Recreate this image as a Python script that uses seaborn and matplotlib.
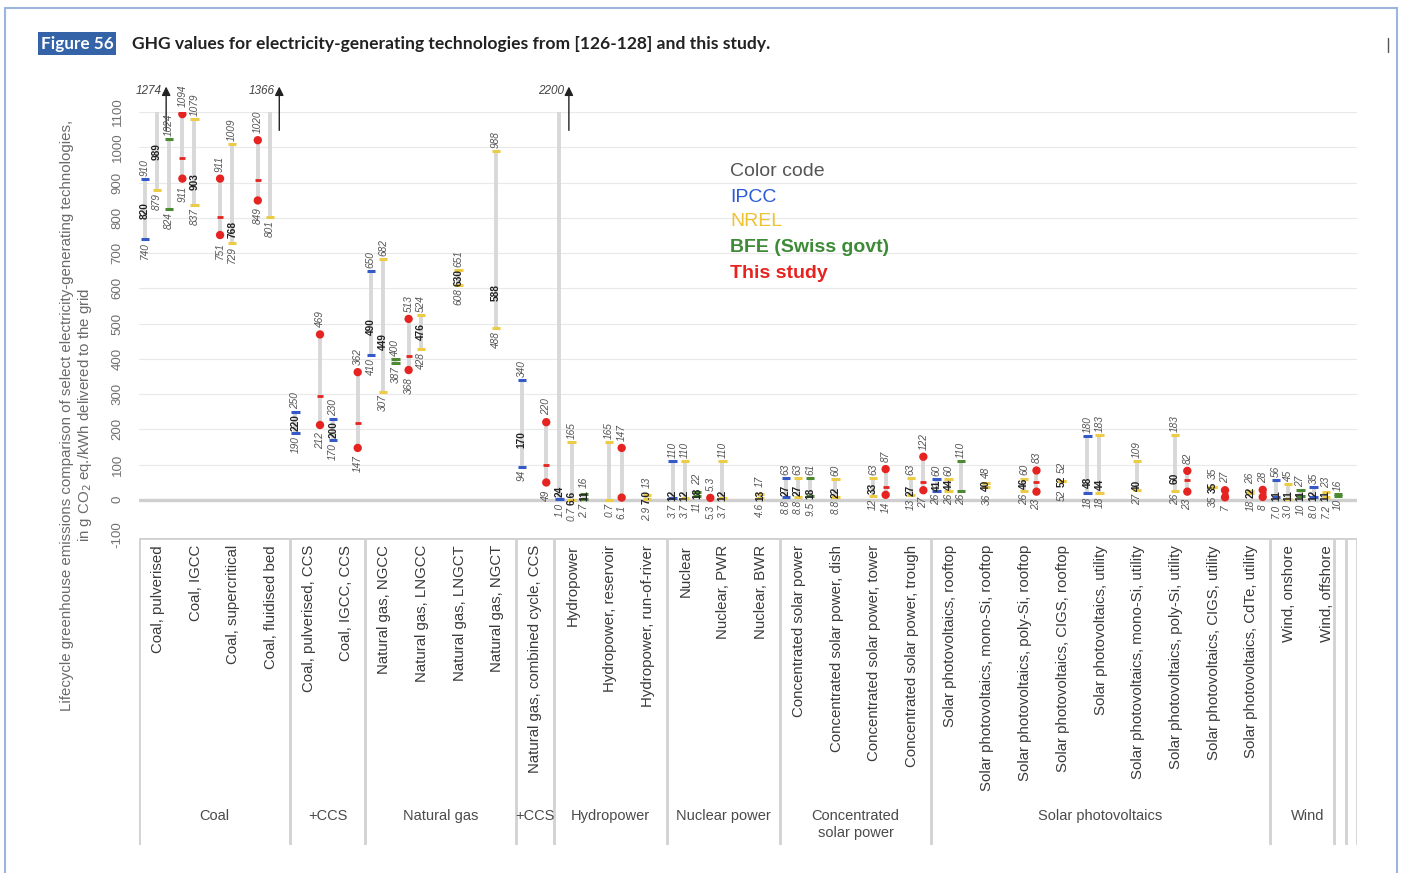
import matplotlib
matplotlib.use("Agg")
import pandas as pd
import seaborn as sns
import matplotlib.pyplot as plt
from matplotlib.patches import Rectangle
from matplotlib.lines import Line2D

# ---- categories ----
techs = [
    "Coal, pulverised", "Coal, IGCC", "Coal, supercritical", "Coal, fluidised bed",
    "Coal, pulverised, CCS", "Coal, IGCC, CCS",
    "Natural gas, NGCC", "Natural gas, LNGCC", "Natural gas, LNGCT", "Natural gas, NGCT",
    "Natural gas, combined cycle, CCS",
    "Hydropower", "Hydropower, reservoir", "Hydropower, run-of-river",
    "Nuclear", "Nuclear, PWR", "Nuclear, BWR",
    "Concentrated solar power", "Concentrated solar power, dish",
    "Concentrated solar power, tower", "Concentrated solar power, trough",
    "Solar photovoltaics, rooftop", "Solar photovoltaics, mono-Si, rooftop",
    "Solar photovoltaics, poly-Si, rooftop", "Solar photovoltaics, CIGS, rooftop",
    "Solar photovoltaics, utility", "Solar photovoltaics, mono-Si, utility",
    "Solar photovoltaics, poly-Si, utility", "Solar photovoltaics, CIGS, utility",
    "Solar photovoltaics, CdTe, utility",
    "Wind, onshore", "Wind, offshore",
]
group_names = ["Coal", "+CCS", "Natural gas", "+CCS", "Hydropower", "Nuclear power",
               "Concentrated\nsolar power", "Solar photovoltaics", "Wind"]
group_sizes = [4, 2, 4, 1, 3, 3, 4, 9, 2]

sources = ["IPCC", "NREL", "BFE (Swiss govt)", "This study"]

# ---- ranges: technology index, source, min, median, max ----
entry_tech = [0, 0, 0, 1, 1, 2, 2, 3, 3, 4, 4, 5, 5,
              6, 6, 6, 7, 7, 8, 9, 10, 10,
              11, 11, 11, 12, 12, 13, 14, 14, 14, 15, 15, 16,
              17, 17, 17, 18, 19, 19, 20, 20,
              21, 21, 21, 22, 23, 23, 24, 25, 25, 26, 27, 27, 28, 28, 29, 29,
              30, 30, 30, 31, 31, 31]
entry_src = ["IPCC", "NREL", "BFE", "Study", "NREL", "Study", "NREL", "Study", "NREL",
             "IPCC", "Study", "IPCC", "Study",
             "IPCC", "NREL", "BFE", "Study", "NREL", "NREL", "NREL", "IPCC", "Study",
             "IPCC", "NREL", "BFE", "NREL", "Study", "NREL", "IPCC", "NREL", "BFE",
             "Study", "NREL", "NREL",
             "IPCC", "NREL", "BFE", "NREL", "NREL", "Study", "NREL", "Study",
             "IPCC", "NREL", "BFE", "NREL", "NREL", "Study", "NREL", "IPCC", "NREL",
             "NREL", "NREL", "Study", "NREL", "Study", "NREL", "Study",
             "IPCC", "NREL", "BFE", "IPCC", "NREL", "BFE"]
entry_min = [740, 879, 824, 911, 837, 751, 729, 849, 801, 190, 212, 170, 147,
             410, 307, 387, 368, 428, 608, 488, 94, 49,
             1.0, 0.7, 2.7, 0.7, 6.1, 2.9, 3.7, 3.7, 11, 5.3, 3.7, 4.6,
             8.8, 8.8, 9.5, 8.8, 12, 14, 13, 27,
             26, 26, 26, 36, 26, 23, 52, 18, 18, 27, 26, 23, 35, 7, 18, 8,
             7.0, 3.0, 10, 8.0, 7.2, 10]
entry_med = [820, 989, None, 970, 903, 801, 768, 906, None, 220, 295, 200, 218,
             490, 449, None, 408, 476, 630, 588, 170, 100,
             24, 6.6, 11, None, None, 7.0, 12, 12, 18, None, 12, 13,
             27, 27, 18, 22, 33, 35, 27, 50,
             41, 44, None, 40, 46, 50, 52, 48, 44, 40, 60, 55, 35, 17, 22, 18,
             11, 11, 11, 12, 11, None]
entry_max = [910, 1274, 1024, 1094, 1079, 911, 1009, 1020, 1366, 250, 469, 230, 362,
             650, 682, 400, 513, 524, 651, 988, 340, 220,
             2200, 165, 16, 165, 147, 13, 110, 110, 22, 5.3, 110, 17,
             63, 63, 61, 60, 63, 87, 63, 122,
             60, 60, 110, 48, 60, 83, 52, 180, 183, 109, 183, 82, 35, 27, 26, 28,
             56, 45, 27, 35, 23, 16]

# ---- layout / style ----
lanes = [0, 1, 2, 0, 1, 0, 1, 0, 1, 0, 2, 0, 2,
         0, 1, 2, 0, 1, 1, 1, 0, 2,
         0, 1, 2, 1, 2, 1, 0, 1, 2, 0, 1, 1,
         0, 1, 2, 1, 1, 2, 1, 2,
         0, 1, 2, 1, 1, 2, 1, 0, 1, 1, 1, 2, 1, 2, 1, 2,
         0, 1, 2, 0, 1, 2]
lane_off = [0.15, 0.47, 0.8]
colors = {"IPCC": "#3559c7", "NREL": "#eccb45", "BFE": "#4b8a33", "Study": "#e52421"}
BAR = "#d8d8d8"
YTOP = 1100

sns.set_theme(style="white")
plt.rcParams["font.family"] = ["Liberation Sans", "DejaVu Sans"]
plt.rcParams["axes.unicode_minus"] = False
NUM_FONT = ["Liberation Sans Narrow", "Liberation Sans", "DejaVu Sans"]

W, H = 1402, 873
fig = plt.figure(figsize=(W / 100, H / 100), dpi=100)


def fx(p):
    return p / W


def fy(p):
    return 1 - p / H


ax = fig.add_axes([fx(139), fy(535), fx(1357) - fx(139), fy(112) - fy(535)])
ax.set_xlim(0, 32.3)
ax.set_ylim(-100, YTOP)
for s in ax.spines.values():
    s.set_visible(False)
ax.set_xticks([])
ax.set_yticks(range(-100, 1101, 100))
ax.tick_params(axis="y", length=0, pad=11, labelsize=9.5, labelcolor="#707070")
for lab in ax.get_yticklabels():
    lab.set_rotation(90)
    lab.set_va("center")

for g in range(0, 1101, 100):
    ax.axhline(g, color="#cfcfcf" if g == 0 else "#e9e9e9",
               lw=2.4 if g == 0 else 0.8, zorder=1)

px_per_unit = (fy(112) - fy(535)) * H / (YTOP + 100)


def fmt(v, src):
    if src == "Study":
        return f"{v:g}"
    return f"{v:.1f}" if v < 10 else f"{v:.0f}"


def text_len(s, fs):
    fpx = fs * 100 / 72
    return sum(0.28 if c == "." else 0.5 for c in s) * fpx


fs_val = 7.3
gap = 3
study_pts = []
for t, src, lo, med, hi, ln in zip(entry_tech, entry_src, entry_min, entry_med,
                                    entry_max, lanes):
    x = t + lane_off[ln]
    col = colors[src]
    top = min(hi, YTOP)
    if hi > lo:
        ax.vlines(x, lo, top, color=BAR, lw=2.8, zorder=2)
    if src == "Study":
        study_pts.append((x, lo))
        if hi != lo:
            study_pts.append((x, hi))
        if med is not None:
            ax.hlines(med, x - 0.08, x + 0.08, color=col, lw=2, zorder=4)
    else:
        ys = [lo] + ([hi] if hi <= YTOP else [])
        ax.hlines(ys, x - 0.11, x + 0.11, color=col, lw=2.2, zorder=3)

    half_med = 0
    if med is not None and src != "Study":
        ms = fmt(med, src)
        half_med = text_len(ms, fs_val) / 2
        ax.text(x, med, ms, rotation=90, ha="center", va="center", fontsize=fs_val,
                fontweight="bold", color="#222222", family=NUM_FONT, zorder=6)
    extra = 4 if src == "Study" else 0
    ref = med if med is not None else (lo + hi) / 2
    if hi <= YTOP:
        d = (hi - ref) * px_per_unit
        off = max(gap + extra, half_med + gap - d)
        ax.text(x, hi + off / px_per_unit, fmt(hi, src), rotation=90, ha="center",
                va="bottom", fontsize=fs_val, style="italic", color="#555555",
                family=NUM_FONT, zorder=6)
    else:
        xa = x + 0.25
        ax.annotate("", xy=(xa, 1180), xytext=(xa, 1040),
                    arrowprops=dict(arrowstyle="-|>", color="#222222", lw=1,
                                    mutation_scale=13),
                    annotation_clip=False, zorder=6)
        ax.text(xa - 0.12, 1160, f"{hi}", ha="right", va="center", fontsize=8.5,
                style="italic", color="#444444", clip_on=False)
    d = (ref - lo) * px_per_unit
    off = max(gap + extra, half_med + gap - d)
    ax.text(x, lo - off / px_per_unit, fmt(lo, src), rotation=90, ha="center",
            va="top", fontsize=fs_val, style="italic", color="#555555",
            family=NUM_FONT, zorder=6)

pts = pd.DataFrame(study_pts, columns=["x", "y"])
sns.scatterplot(data=pts, x="x", y="y", color=colors["Study"], s=36,
                edgecolor="none", ax=ax, zorder=5, legend=False)
ax.set_xlabel("")
ax.set_ylabel("")
ax.set_xlim(0, 32.3)
ax.set_ylim(-100, YTOP)

# ---- category area ----
ax2 = fig.add_axes([fx(139), fy(845), fx(1357) - fx(139), fy(538) - fy(845)])
ax2.set_xlim(0, 32.3)
ax2.set_ylim(0, 1)
ax2.axis("off")
ax2.axhline(1, color="#cfcfcf", lw=2)
bounds = [0]
for n in group_sizes:
    bounds.append(bounds[-1] + n)
for b in bounds:
    ax2.axvline(b, color="#d2d2d2", lw=2)
for b in [31.7, 32.3]:
    ax2.axvline(b, color="#d2d2d2", lw=2)
for i, name in enumerate(techs):
    ax2.text(i + 0.5, 0.977, name, rotation=90, ha="center", va="top",
             fontsize=10.8, color="#3a3a3a")
for name, a, b in zip(group_names, bounds[:-1], bounds[1:]):
    ax2.text((a + b) / 2, 0.118, name, ha="center", va="top", fontsize=10.5,
             color="#4a4a4a", linespacing=1.25)

# ---- axis title ----
fig.text(fx(77), fy(415),
         "Lifecycle greenhouse emissions comparison of select electricity-generating technologies,\n"
         "in g CO$_2$ eq./kWh delivered to the grid",
         rotation=90, ha="center", va="center", multialignment="center",
         fontsize=10.8, color="#6a6a6a", linespacing=1.2)

# ---- colour code ----
leg_y = [172, 197, 222, 248, 273]
leg_txt = ["Color code"] + sources
leg_col = ["#555555", "#2a5bd7", "#efc232", "#3d8b37", "#e8231f"]
leg_w = ["normal", "normal", "normal", "bold", "bold"]
for y, t, c, w in zip(leg_y, leg_txt, leg_col, leg_w):
    fig.text(fx(730), fy(y), t, ha="left", va="center", fontsize=14, color=c,
             fontweight=w)

# ---- title ----
fig.add_artist(Rectangle((fx(38), fy(55)), fx(116) - fx(38), fy(32) - fy(55),
                         transform=fig.transFigure, color="#3463a8", lw=0))
fig.text(fx(77), fy(43.5), "Figure 56", ha="center", va="center", color="white",
         fontsize=12.3, fontweight="bold", family=["Lato", "DejaVu Sans"])
fig.text(fx(132), fy(43.5),
         "GHG values for electricity-generating technologies from [126-128] and this study.",
         ha="left", va="center", color="#222222", fontsize=12.6, fontweight="bold",
         family=["Lato", "DejaVu Sans"])

# page frame
fig.add_artist(Rectangle((fx(5), fy(880)), fx(1397) - fx(5), fy(8) - fy(880),
                         transform=fig.transFigure, fill=False, ec="#9bb5dc", lw=1.5))
fig.add_artist(Line2D([fx(1388), fx(1388)], [fy(38), fy(52)],
                      transform=fig.transFigure, color="#555555", lw=1))

fig.savefig("out.png", dpi=100, facecolor="white")
